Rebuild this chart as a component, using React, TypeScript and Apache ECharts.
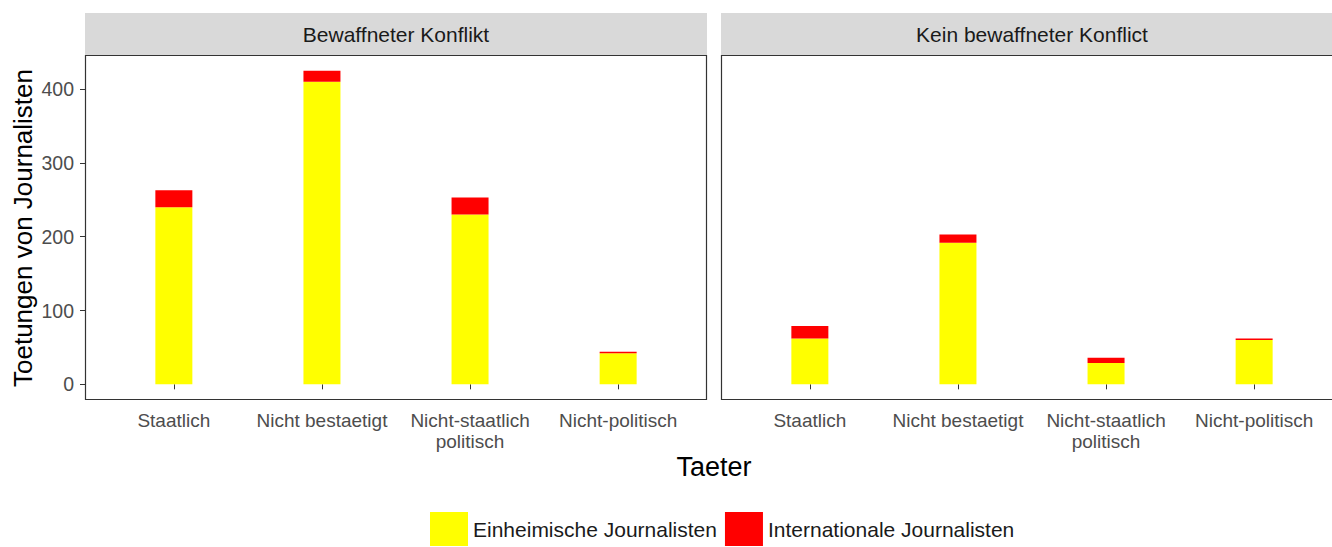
import React, { useEffect, useRef } from "react";
import * as echarts from "echarts";

const categories = ["Staatlich", "Nicht bestaetigt", "Nicht-staatlich politisch", "Nicht-politisch"];
const panelTitles = ["Bewaffneter Konflikt", "Kein bewaffneter Konflict"];
const seriesNames = ["Einheimische Journalisten", "Internationale Journalisten"];
const armedLocal = [240, 410, 230, 42];
const armedIntl = [23, 15, 23, 2];
const noArmedLocal = [62, 192, 29, 60];
const noArmedIntl = [17, 11, 7, 2];
const yTicks = [0, 100, 200, 300, 400];

const YELLOW = "#FFFF00";
const RED = "#FF0000";
const FONT = "Liberation Sans, Arial, sans-serif";

export default function App() {
  const ref = useRef<HTMLDivElement>(null);
  useEffect(() => {
    if (!ref.current) return;
    const chart = echarts.init(ref.current, null, { renderer: "svg" });
    const panelLeft = [85, 721];
    const panelW = 622;
    const top = 55;
    const h = 345;
    const unit = panelW / 4.2;
    const innerOff = unit * 0.1;

    const grids = panelLeft.map((l) => ({
      left: l + innerOff,
      top,
      width: unit * 4,
      height: h,
      containLabel: false,
    }));

    const xAxes = [0, 1].map((i) => ({
      type: "category",
      gridIndex: i,
      data: categories,
      axisLine: { show: false },
      axisTick: { show: true, alignWithLabel: true, length: 5, lineStyle: { color: "#333333", width: 1 } },
      axisLabel: {
        color: "#4D4D4D",
        fontSize: 19,
        fontFamily: FONT,
        lineHeight: 21,
        margin: 10,
        interval: 0,
        formatter: (v: string) => v.replace("staatlich politisch", "staatlich\npolitisch"),
      },
      splitLine: { show: false },
    }));

    const yAxes = [0, 1].map((i) => ({
      type: "value",
      gridIndex: i,
      min: -21.25,
      max: 446.25,
      offset: innerOff,
      axisLine: { show: false },
      axisTick: {
        show: i === 0,
        length: 5,
        customValues: yTicks,
        lineStyle: { color: "#333333", width: 1 },
      },
      axisLabel: {
        show: i === 0,
        customValues: yTicks,
        color: "#4D4D4D",
        fontSize: 19.5,
        fontFamily: FONT,
        margin: 11,
      },
      splitLine: { show: false },
    }));

    const mk = (name: string, data: number[], color: string, gi: number) => ({
      name,
      type: "bar",
      xAxisIndex: gi,
      yAxisIndex: gi,
      stack: "s" + gi,
      data,
      barWidth: 37,
      itemStyle: { color },
      emphasis: { disabled: true },
    });

    const graphics: any[] = [];
    panelLeft.forEach((l, i) => {
      graphics.push({
        type: "rect",
        shape: { x: l, y: 13, width: panelW + (i === 1 ? 30 : 0), height: 42 },
        style: { fill: "#D9D9D9" },
        silent: true,
      });
      graphics.push({
        type: "text",
        x: l + panelW / 2,
        y: 34,
        style: {
          text: panelTitles[i],
          fill: "#1A1A1A",
          font: `21px ${FONT}`,
          textAlign: "center",
          textVerticalAlign: "middle",
        },
        silent: true,
      });
      const r = l + panelW - 0.5 + (i === 1 ? 30 : 0);
      graphics.push({
        type: i === 0 ? "polygon" : "polyline",
        shape: {
          points: [
            [r, top + 0.5],
            [l + 0.5, top + 0.5],
            [l + 0.5, top + h - 0.5],
            [r, top + h - 0.5],
          ],
        },
        style: { fill: "none", stroke: "#333333", lineWidth: 1.2 },
        silent: true,
        z: 100,
      });
    });
    graphics.push({
      type: "text",
      x: 23,
      y: 228,
      rotation: Math.PI / 2,
      style: {
        text: "Toetungen von Journalisten",
        fill: "#000000",
        font: `26px ${FONT}`,
        textAlign: "center",
        textVerticalAlign: "middle",
      },
      silent: true,
    });
    graphics.push({
      type: "text",
      x: 714,
      y: 467,
      style: {
        text: "Taeter",
        fill: "#000000",
        font: `27px ${FONT}`,
        textAlign: "center",
        textVerticalAlign: "middle",
      },
      silent: true,
    });

    chart.setOption({
      animation: false,
      backgroundColor: "#FFFFFF",
      grid: grids,
      xAxis: xAxes,
      yAxis: yAxes,
      legend: {
        left: 425,
        top: 507,
        itemWidth: 38,
        itemHeight: 34,
        itemGap: 8,
        icon: "rect",
        data: seriesNames,
        selectedMode: false,
        textStyle: { fontSize: 21, color: "#1A1A1A", fontFamily: FONT },
      },
      series: [
        mk(seriesNames[0], armedLocal, YELLOW, 0),
        mk(seriesNames[1], armedIntl, RED, 0),
        mk(seriesNames[0], noArmedLocal, YELLOW, 1),
        mk(seriesNames[1], noArmedIntl, RED, 1),
      ],
      graphic: graphics,
    });
    return () => chart.dispose();
  }, []);
  return (
    <div
      ref={ref}
      style={{ position: "fixed", left: 0, top: 0, width: 1332, height: 547, background: "#fff" }}
    />
  );
}
